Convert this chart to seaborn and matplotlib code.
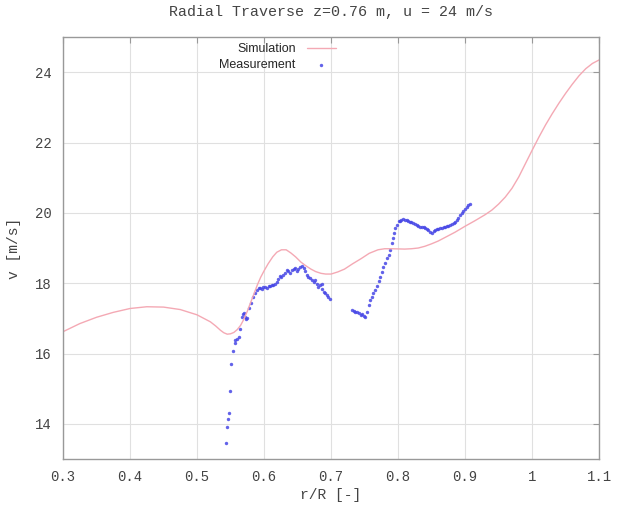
import numpy as np
import pandas as pd
import matplotlib
matplotlib.use("Agg")
import matplotlib.pyplot as plt
import seaborn as sns

# ---- data ----
sim_x = [0.300, 0.325, 0.350, 0.375, 0.400, 0.425, 0.450, 0.475, 0.500, 0.510,
         0.520, 0.528, 0.535, 0.540, 0.545, 0.550, 0.555, 0.560, 0.565, 0.570,
         0.575, 0.582, 0.590, 0.595, 0.600, 0.606, 0.613, 0.619, 0.626, 0.633,
         0.640, 0.647, 0.655, 0.662, 0.670, 0.677, 0.685, 0.692, 0.700, 0.710,
         0.720, 0.732, 0.745, 0.757, 0.770, 0.780, 0.790, 0.810, 0.820, 0.830,
         0.840, 0.850, 0.860, 0.870, 0.885, 0.900, 0.915, 0.930, 0.940, 0.950,
         0.960, 0.970, 0.980, 0.990, 1.000, 1.010, 1.020, 1.030, 1.040, 1.050,
         1.060, 1.070, 1.080, 1.090, 1.100]
sim_v = [16.62, 16.85, 17.03, 17.17, 17.28, 17.33, 17.32, 17.25, 17.10, 17.00,
         16.90, 16.78, 16.66, 16.59, 16.55, 16.56, 16.60, 16.68, 16.80, 16.98,
         17.20, 17.55, 17.95, 18.17, 18.35, 18.55, 18.75, 18.88, 18.95, 18.95,
         18.86, 18.75, 18.60, 18.50, 18.40, 18.33, 18.28, 18.26, 18.26, 18.32,
         18.40, 18.55, 18.70, 18.85, 18.95, 18.98, 18.98, 18.97, 18.98, 19.00,
         19.05, 19.12, 19.20, 19.30, 19.45, 19.62, 19.78, 19.95, 20.08, 20.25,
         20.45, 20.70, 21.02, 21.40, 21.78, 22.15, 22.50, 22.82, 23.12, 23.40,
         23.66, 23.90, 24.10, 24.25, 24.35]

meas_x = [0.543, 0.544, 0.546, 0.548, 0.549, 0.551, 0.553, 0.556, 0.557, 0.559,
          0.562, 0.564, 0.567, 0.569, 0.570, 0.572, 0.573, 0.574, 0.578, 0.581,
          0.584, 0.587, 0.589, 0.592, 0.594, 0.597, 0.599, 0.602, 0.604, 0.607,
          0.609, 0.612, 0.614, 0.617, 0.619, 0.621, 0.624, 0.626, 0.629, 0.631,
          0.634, 0.636, 0.639, 0.641, 0.644, 0.646, 0.649, 0.651, 0.654, 0.656,
          0.659, 0.661, 0.664, 0.666, 0.669, 0.671, 0.674, 0.676, 0.679, 0.681,
          0.684, 0.686, 0.687, 0.689, 0.691, 0.694, 0.696, 0.699,
          0.731, 0.734, 0.736, 0.739, 0.741, 0.744, 0.746, 0.749, 0.751, 0.753,
          0.756, 0.758, 0.761, 0.763, 0.766, 0.768, 0.771, 0.773, 0.776, 0.778,
          0.781, 0.783, 0.786, 0.788, 0.791, 0.793, 0.794, 0.796, 0.798, 0.801,
          0.803, 0.805, 0.808, 0.810, 0.813, 0.815, 0.818, 0.820, 0.823, 0.825,
          0.828, 0.830, 0.833, 0.835, 0.838, 0.840, 0.843, 0.845, 0.848, 0.850,
          0.853, 0.855, 0.858, 0.860, 0.863, 0.865, 0.868, 0.870, 0.873, 0.875,
          0.878, 0.880, 0.883, 0.885, 0.888, 0.890, 0.893, 0.895, 0.897, 0.900,
          0.903, 0.905, 0.907]
meas_v = [13.45, 13.92, 14.13, 14.32, 14.92, 15.70, 16.08, 16.30, 16.37, 16.41,
          16.46, 16.69, 17.05, 17.12, 17.15, 17.05, 16.98, 17.00, 17.30, 17.44,
          17.62, 17.73, 17.80, 17.85, 17.86, 17.84, 17.89, 17.88, 17.86, 17.93,
          17.91, 17.96, 17.94, 17.98, 18.03, 18.13, 18.21, 18.18, 18.23, 18.30,
          18.37, 18.34, 18.28, 18.37, 18.41, 18.42, 18.35, 18.41, 18.45, 18.48,
          18.42, 18.35, 18.24, 18.19, 18.14, 18.09, 18.04, 18.09, 17.99, 17.89,
          17.94, 17.99, 17.84, 17.76, 17.72, 17.67, 17.62, 17.55,
          17.24, 17.22, 17.19, 17.17, 17.14, 17.10, 17.12, 17.08, 17.05, 17.19,
          17.38, 17.52, 17.62, 17.71, 17.81, 17.92, 18.05, 18.17, 18.33, 18.47,
          18.57, 18.71, 18.81, 18.95, 19.14, 19.28, 19.43, 19.57, 19.66, 19.76,
          19.78, 19.80, 19.82, 19.81, 19.80, 19.78, 19.75, 19.73, 19.70, 19.68,
          19.65, 19.63, 19.61, 19.60, 19.59, 19.56, 19.53, 19.50, 19.46, 19.44,
          19.49, 19.51, 19.53, 19.54, 19.56, 19.58, 19.59, 19.60, 19.62, 19.63,
          19.65, 19.67, 19.70, 19.74, 19.80, 19.86, 19.94, 20.00, 20.06, 20.11,
          20.17, 20.21, 20.25]

x_ticks = [0.3, 0.4, 0.5, 0.6, 0.7, 0.8, 0.9, 1.0, 1.1]
x_ticklabels = ["0.3", "0.4", "0.5", "0.6", "0.7", "0.8", "0.9", "1", "1.1"]
y_ticks = [14, 16, 18, 20, 22, 24]

sim_df = pd.DataFrame({"r": sim_x, "v": sim_v})
meas_df = pd.DataFrame({"r": meas_x, "v": meas_v})

sns.set_style("white")
mono = "Liberation Mono"

fig = plt.figure(figsize=(6.3, 5.08), dpi=100)
ax = fig.add_axes([0.1, 0.0965, 0.851, 0.8305])

sns.lineplot(data=sim_df, x="r", y="v", ax=ax, color="#f4a9b4", linewidth=1.0,
             sort=False, estimator=None, label="Simulation")
sns.scatterplot(data=meas_df, x="r", y="v", ax=ax, color="#4646e6", s=6,
                marker="o", linewidth=0, alpha=0.85, label="Measurement")

ax.set_xlim(0.3, 1.1)
ax.set_ylim(13, 25)
ax.set_xticks(x_ticks)
ax.set_xticklabels(x_ticklabels)
ax.set_yticks(y_ticks)
ax.grid(True, color="#e0e0e0", linewidth=0.8)
ax.tick_params(direction="in", top=True, right=True, length=4, color="#999999",
               labelsize=10, labelcolor="#444444", pad=8)
for lab in ax.get_xticklabels() + ax.get_yticklabels():
    lab.set_family(mono)
for sp in ax.spines.values():
    sp.set_color("#999999")
    sp.set_linewidth(1.0)

ax.set_xlabel("r/R [-]", family=mono, fontsize=10.5, color="#444444", labelpad=3)
ax.set_ylabel("v [m/s]", family=mono, fontsize=10.5, color="#444444", labelpad=10)
ax.set_title("Radial Traverse z=0.76 m, u = 24 m/s", family=mono, fontsize=10.8,
             color="#444444", pad=15)

ax.legend(loc="upper center", bbox_to_anchor=(0.4, 1.012), frameon=False,
          markerfirst=False, handlelength=2.3, handletextpad=0.9,
          labelspacing=0.3, prop={"family": "Liberation Sans", "size": 9})

fig.savefig("out.png", dpi=100)
